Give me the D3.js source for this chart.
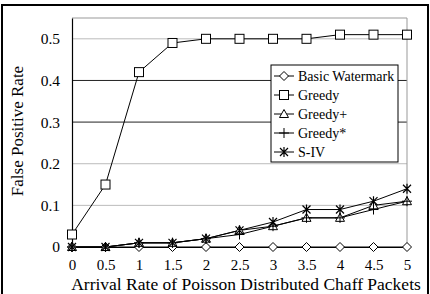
<!DOCTYPE html>
<html>
<head>
<meta charset="utf-8">
<script src="https://cdn.jsdelivr.net/npm/d3@7"></script>
<style>
body { margin:0; background:#fff; }
</style>
</head>
<body>
<svg id="chart"></svg>
<script>
// data
var rates = [0, 0.5, 1, 1.5, 2, 2.5, 3, 3.5, 4, 4.5, 5];
var yTicks = [0, 0.1, 0.2, 0.3, 0.4, 0.5];
var basicWatermark = [0, 0, 0, 0, 0, 0, 0, 0, 0, 0, 0];
var greedy = [0.03, 0.15, 0.42, 0.49, 0.5, 0.5, 0.5, 0.5, 0.51, 0.51, 0.51];
var greedyPlus = [0, 0, 0.01, 0.01, 0.02, 0.04, 0.05, 0.07, 0.07, 0.1, 0.11];
var greedyStar = [0, 0, 0.01, 0.01, 0.02, 0.03, 0.05, 0.07, 0.07, 0.09, 0.11];
var sIV = [0, 0, 0.01, 0.01, 0.02, 0.04, 0.06, 0.09, 0.09, 0.11, 0.14];
var seriesNames = ["Basic Watermark", "Greedy", "Greedy+", "Greedy*", "S-IV"];
var seriesMarkers = ["diamond", "square", "triangle", "plus", "star"];

var FONT = "'Liberation Serif'";

var W = 430, H = 294;
var margin = {top:18, right:23, bottom:47, left:72},
width = W - margin.left - margin.right,
height = H - margin.top - margin.bottom;

var svg = d3.select("#chart").attr("width", W).attr("height", H);

// outer frame
svg.append("rect")
.attr("x", 2).attr("y", 5).attr("width", 426).attr("height", 300)
.attr("fill", "none").attr("stroke", "#000").attr("stroke-width", 2);

var g = svg.append("g")
.attr("transform", "translate(" + margin.left + "," + margin.top + ")");

var x = d3.scaleLinear().domain([0, 5]).range([0, width]);
var y = d3.scaleLinear().domain([0, 0.55]).range([height, 0]);

// gridlines (0.3 and 0.4 look dark in the original)
g.selectAll(".grid")
.data(yTicks.filter(function(d){ return d > 0; }))
.enter()
.append("line")
.attr("x1", 0).attr("x2", width)
.attr("y1", function(d){ return y(d); })
.attr("y2", function(d){ return y(d); })
.attr("stroke", function(d){ return (d == 0.3 || d == 0.4) ? "#222" : "#bbb"; })
.attr("stroke-width", 1);

// top and right of plot frame
g.append("path")
.attr("d", "M0,0H" + width + "V" + height)
.attr("fill", "none").attr("stroke", "#999");

// y axis
var yAxis = g.append("g")
.call(d3.axisLeft(y).tickValues(yTicks).tickSize(0).tickPadding(12)
.tickFormat(function(d){ return d == 0 ? "0" : d3.format(".1f")(d); }));
yAxis.selectAll("text").style("font-family", FONT).style("font-size", "15.5px");
yAxis.select(".domain").attr("stroke", "#000").attr("stroke-width", 1.2);

// x axis at 0
var xAxis = g.append("g")
.attr("transform", "translate(0," + height + ")")
.call(d3.axisBottom(x).tickValues(rates).tickSize(0).tickPadding(12)
.tickFormat(function(d){ return d3.format("")(d); }));
xAxis.selectAll("text").style("font-family", FONT).style("font-size", "15px");
xAxis.select(".domain").attr("stroke", "#000").attr("stroke-width", 1.2);

// axis titles
svg.append("text")
.attr("x", 246).attr("y", 289.5)
.attr("text-anchor", "middle")
.style("font-family", FONT).style("font-size", "17.5px")
.text("Arrival Rate of Poisson Distributed Chaff Packets");

svg.append("text")
.attr("transform", "translate(23,131)rotate(-90)")
.attr("text-anchor", "middle")
.style("font-family", FONT).style("font-size", "17px")
.text("False Positive Rate");

// marker drawing
function drawMarker(sel, type) {
  if (type == "diamond") {
    sel.append("path").attr("d", "M0,-4.5L4.5,0L0,4.5L-4.5,0Z")
    .attr("fill", "#fff").attr("stroke", "#000");
  } else if (type == "square") {
    sel.append("rect").attr("x", -4.5).attr("y", -4.5).attr("width", 9).attr("height", 9)
    .attr("fill", "#fff").attr("stroke", "#000");
  } else if (type == "triangle") {
    sel.append("path").attr("d", "M0,-4.5L4.5,3.5L-4.5,3.5Z")
    .attr("fill", "#fff").attr("stroke", "#000");
  } else if (type == "plus") {
    sel.append("path").attr("d", "M-5,0H5M0,-5V5")
    .attr("fill", "none").attr("stroke", "#000");
  } else if (type == "star") {
    sel.append("path").attr("d", "M-4,-4L4,4M-4,4L4,-4M0,-5V5")
    .attr("fill", "none").attr("stroke", "#000").attr("stroke-width", 1.2);
  }
}

var allSeries = [basicWatermark, greedy, greedyPlus, greedyStar, sIV];

var line = d3.line()
.x(function(d, i){ return x(rates[i]); })
.y(function(d){ return y(d); });

allSeries.forEach(function(vals, k){
  g.append("path")
  .datum(vals)
  .attr("d", line)
  .attr("fill", "none")
  .attr("stroke", "#000")
  .attr("stroke-width", 1);
});

allSeries.forEach(function(vals, k){
  g.selectAll(".m" + k)
  .data(vals)
  .enter()
  .append("g")
  .attr("transform", function(d, i){ return "translate(" + x(rates[i]) + "," + y(d) + ")"; })
  .each(function(){ drawMarker(d3.select(this), seriesMarkers[k]); });
});

// legend
var legend = svg.append("g").attr("transform", "translate(271,65)");
legend.append("rect")
.attr("width", 127).attr("height", 97)
.attr("fill", "#fff").attr("stroke", "#000");

var item = legend.selectAll(".item")
.data(seriesNames)
.enter()
.append("g")
.attr("transform", function(d, i){ return "translate(0," + (11 + i * 19) + ")"; });

item.append("line")
.attr("x1", 3).attr("x2", 23)
.attr("stroke", "#000");

item.append("g")
.attr("transform", "translate(13,0)")
.each(function(d, i){ drawMarker(d3.select(this), seriesMarkers[i]); });

item.append("text")
.attr("x", 27).attr("y", 5)
.style("font-family", FONT).style("font-size", "14px")
.text(function(d){ return d; });
</script>
</body>
</html>
